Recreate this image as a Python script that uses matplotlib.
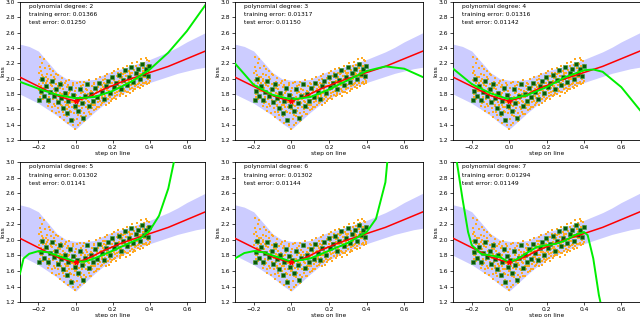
import matplotlib
matplotlib.use("Agg")
import matplotlib.pyplot as plt
import numpy as np

# shared curve grid
curve_x = [-0.3, -0.25, -0.2, -0.15, -0.1, -0.05, 0.0, 0.05, 0.1, 0.15, 0.2,
           0.25, 0.3, 0.35, 0.4, 0.45, 0.5, 0.55, 0.6, 0.65, 0.7]
red_y = [2.02, 1.96, 1.90, 1.84, 1.78, 1.74, 1.71, 1.745, 1.80, 1.86, 1.91,
         1.96, 2.00, 2.04, 2.08, 2.12, 2.16, 2.21, 2.26, 2.31, 2.36]
band_hi = [2.45, 2.42, 2.36, 2.22, 2.08, 2.00, 1.98, 1.98, 1.99, 2.05, 2.10,
           2.13, 2.17, 2.21, 2.25, 2.30, 2.35, 2.41, 2.48, 2.54, 2.60]
band_lo = [1.80, 1.74, 1.68, 1.60, 1.52, 1.42, 1.34, 1.45, 1.56, 1.66, 1.74,
           1.80, 1.86, 1.91, 1.95, 1.99, 2.03, 2.07, 2.10, 2.13, 2.15]

# polynomial fits
fit_x = {
    2: [-0.3, -0.2, -0.1, 0.0, 0.1, 0.2, 0.3, 0.4, 0.5, 0.6, 0.7],
    3: [-0.3, -0.2, -0.1, 0.0, 0.1, 0.2, 0.3, 0.4, 0.5, 0.6, 0.7],
    4: [-0.3, -0.2, -0.1, 0.0, 0.1, 0.2, 0.3, 0.4, 0.45, 0.5, 0.6, 0.7],
    5: [-0.3, -0.28, -0.25, -0.2, -0.15, -0.1, -0.05, 0.0, 0.05, 0.1, 0.2,
        0.3, 0.35, 0.4, 0.45, 0.5, 0.53],
    6: [-0.3, -0.25, -0.2, -0.15, -0.1, 0.0, 0.1, 0.2, 0.3, 0.4, 0.45, 0.5, 0.51],
    7: [-0.28, -0.25, -0.22, -0.2, -0.15, -0.1, -0.05, 0.0, 0.05, 0.1, 0.15,
        0.2, 0.25, 0.3, 0.35, 0.4, 0.42, 0.45, 0.48, 0.49],
}
fit_y = {
    2: [1.96, 1.87, 1.79, 1.745, 1.76, 1.84, 1.96, 2.12, 2.34, 2.62, 2.96],
    3: [2.20, 1.92, 1.79, 1.73, 1.76, 1.86, 1.98, 2.10, 2.16, 2.13, 2.02],
    4: [2.13, 1.93, 1.81, 1.73, 1.79, 1.89, 2.02, 2.11, 2.12, 2.09, 1.89, 1.59],
    5: [1.56, 1.76, 1.82, 1.855, 1.84, 1.80, 1.76, 1.72, 1.72, 1.76, 1.86,
        1.97, 2.02, 2.12, 2.31, 2.66, 3.0],
    6: [1.76, 1.83, 1.855, 1.84, 1.80, 1.72, 1.76, 1.86, 1.96, 2.10, 2.27, 2.74, 3.0],
    7: [3.0, 2.53, 2.10, 1.93, 1.82, 1.80, 1.78, 1.71, 1.76, 1.84, 1.91,
        1.93, 1.95, 1.99, 2.06, 2.10, 2.06, 1.76, 1.29, 1.18],
}
train_err = {2: "0.01366", 3: "0.01317", 4: "0.01316", 5: "0.01302", 6: "0.01302", 7: "0.01294"}
test_err = {2: "0.01250", 3: "0.01150", 4: "0.01142", 5: "0.01141", 6: "0.01144", 7: "0.01149"}

orange_points = [
    (-0.198, 1.72), (-0.195, 1.85), (-0.193, 2.28), (-0.191, 1.98), (-0.189, 1.76), (-0.186, 2.10),
    (-0.184, 1.90), (-0.181, 1.81), (-0.178, 2.20), (-0.176, 1.73), (-0.173, 2.02), (-0.170, 1.88),
    (-0.167, 1.78), (-0.164, 2.14), (-0.161, 1.94), (-0.158, 1.84), (-0.155, 1.71), (-0.152, 2.06),
    (-0.151, 1.97), (-0.197, 1.93), (-0.192, 2.15), (-0.187, 1.80), (-0.183, 2.05), (-0.177, 1.95),
    (-0.172, 2.25), (-0.168, 1.84), (-0.163, 1.76), (-0.159, 2.02), (-0.154, 1.90), (-0.196, 2.08),
    (-0.149, 1.64), (-0.147, 1.88), (-0.144, 2.16), (-0.142, 1.76), (-0.139, 1.95), (-0.137, 1.70),
    (-0.134, 2.05), (-0.131, 1.82), (-0.129, 1.58), (-0.126, 1.91), (-0.123, 1.74), (-0.121, 2.10),
    (-0.118, 1.67), (-0.115, 1.86), (-0.112, 1.99), (-0.110, 1.79), (-0.107, 1.55), (-0.104, 1.93),
    (-0.102, 1.72), (-0.148, 2.00), (-0.143, 1.68), (-0.138, 1.84), (-0.133, 1.92), (-0.127, 1.63),
    (-0.122, 1.81), (-0.117, 2.02), (-0.111, 1.64), (-0.106, 1.82), (-0.103, 2.06), (-0.136, 2.12),
    (-0.099, 1.84), (-0.097, 2.05), (-0.094, 1.62), (-0.091, 1.77), (-0.089, 1.95), (-0.086, 1.50),
    (-0.083, 1.71), (-0.081, 1.88), (-0.078, 1.66), (-0.075, 2.01), (-0.073, 1.80), (-0.070, 1.57),
    (-0.067, 1.74), (-0.065, 1.92), (-0.062, 1.46), (-0.059, 1.69), (-0.056, 1.83), (-0.054, 1.60),
    (-0.051, 1.97), (-0.098, 1.68), (-0.093, 1.90), (-0.088, 1.56), (-0.084, 1.82), (-0.079, 1.96),
    (-0.074, 1.64), (-0.069, 1.86), (-0.064, 1.53), (-0.060, 1.78), (-0.055, 1.94), (-0.052, 1.66),
    (-0.049, 1.75), (-0.046, 1.52), (-0.044, 1.89), (-0.041, 1.66), (-0.038, 1.42), (-0.036, 1.81),
    (-0.033, 1.98), (-0.030, 1.58), (-0.028, 1.72), (-0.025, 1.48), (-0.022, 1.86), (-0.020, 1.63),
    (-0.017, 1.77), (-0.014, 1.40), (-0.012, 1.92), (-0.009, 1.55), (-0.006, 1.69), (-0.004, 1.84),
    (-0.001, 1.35), (-0.048, 1.60), (-0.043, 1.79), (-0.039, 1.92), (-0.034, 1.63), (-0.029, 1.84),
    (-0.024, 1.56), (-0.019, 1.70), (-0.015, 1.95), (-0.010, 1.46), (-0.005, 1.78), (-0.002, 1.60),
    (0.002, 1.61), (0.005, 1.79), (0.007, 1.47), (0.010, 1.95), (0.013, 1.70), (0.015, 1.53),
    (0.018, 1.85), (0.021, 1.64), (0.023, 1.42), (0.026, 1.76), (0.029, 1.90), (0.031, 1.58),
    (0.034, 1.72), (0.037, 1.50), (0.039, 1.83), (0.042, 1.67), (0.045, 1.96), (0.047, 1.55),
    (0.049, 1.78), (0.003, 1.88), (0.008, 1.66), (0.012, 1.40), (0.017, 1.74), (0.022, 1.96),
    (0.027, 1.52), (0.032, 1.81), (0.036, 1.62), (0.041, 1.92), (0.046, 1.70), (0.048, 1.45),
    (0.051, 1.68), (0.054, 1.87), (0.057, 1.52), (0.059, 1.74), (0.062, 1.93), (0.065, 1.61),
    (0.067, 1.80), (0.070, 1.57), (0.073, 1.70), (0.075, 1.98), (0.078, 1.65), (0.081, 1.84),
    (0.083, 1.54), (0.086, 1.76), (0.089, 1.90), (0.091, 1.62), (0.094, 1.72), (0.097, 1.95),
    (0.099, 1.59), (0.052, 1.80), (0.056, 1.63), (0.061, 1.85), (0.066, 1.71), (0.071, 1.92),
    (0.076, 1.54), (0.080, 1.76), (0.085, 1.67), (0.090, 1.83), (0.095, 1.66), (0.098, 1.87),
    (0.101, 1.79), (0.104, 1.66), (0.107, 1.88), (0.109, 2.00), (0.112, 1.60), (0.115, 1.74),
    (0.117, 1.84), (0.120, 1.69), (0.123, 1.94), (0.125, 1.63), (0.128, 1.78), (0.131, 2.02),
    (0.133, 1.71), (0.136, 1.86), (0.139, 1.66), (0.141, 1.92), (0.144, 1.75), (0.147, 1.82),
    (0.149, 1.98), (0.102, 1.93), (0.106, 1.72), (0.111, 1.81), (0.116, 1.63), (0.121, 1.89),
    (0.126, 1.73), (0.130, 1.84), (0.135, 1.95), (0.140, 1.78), (0.145, 1.68), (0.148, 1.89),
    (0.151, 1.70), (0.154, 1.87), (0.157, 2.04), (0.159, 1.77), (0.162, 1.66), (0.165, 1.93),
    (0.167, 1.81), (0.170, 2.06), (0.173, 1.73), (0.175, 1.89), (0.178, 1.68), (0.181, 1.97),
    (0.183, 1.84), (0.186, 1.76), (0.189, 2.01), (0.191, 1.71), (0.194, 1.91), (0.197, 1.80),
    (0.199, 2.07), (0.152, 1.94), (0.156, 1.80), (0.161, 1.99), (0.166, 1.72), (0.171, 1.85),
    (0.176, 1.95), (0.180, 1.78), (0.185, 1.90), (0.190, 1.83), (0.195, 1.74), (0.198, 1.95),
    (0.202, 1.86), (0.205, 1.75), (0.207, 1.98), (0.210, 2.10), (0.213, 1.82), (0.215, 1.93),
    (0.218, 1.73), (0.221, 2.04), (0.223, 1.88), (0.226, 1.79), (0.229, 1.96), (0.231, 2.12),
    (0.234, 1.84), (0.237, 1.77), (0.239, 2.01), (0.242, 1.91), (0.245, 1.81), (0.247, 2.07),
    (0.249, 1.95), (0.203, 2.02), (0.208, 1.85), (0.212, 1.77), (0.217, 1.96), (0.222, 1.83),
    (0.227, 2.08), (0.232, 1.90), (0.236, 1.97), (0.241, 1.79), (0.246, 1.88), (0.248, 2.02),
    (0.252, 1.87), (0.255, 2.14), (0.257, 1.80), (0.260, 1.99), (0.263, 1.92), (0.265, 2.08),
    (0.268, 1.84), (0.271, 1.78), (0.273, 2.03), (0.276, 1.95), (0.279, 2.17), (0.281, 1.89),
    (0.284, 1.83), (0.287, 2.10), (0.289, 1.97), (0.292, 1.86), (0.295, 2.05), (0.297, 1.92),
    (0.299, 2.15), (0.253, 1.94), (0.258, 2.06), (0.262, 1.86), (0.267, 1.96), (0.272, 2.11),
    (0.277, 1.83), (0.282, 2.00), (0.286, 1.92), (0.291, 2.08), (0.296, 1.81), (0.298, 2.00),
    (0.302, 1.88), (0.305, 2.01), (0.307, 2.20), (0.310, 1.84), (0.313, 1.96), (0.315, 2.11),
    (0.318, 1.91), (0.321, 2.05), (0.323, 1.86), (0.326, 2.16), (0.329, 1.99), (0.331, 2.22),
    (0.334, 1.93), (0.337, 2.08), (0.339, 1.89), (0.342, 2.03), (0.345, 2.18), (0.347, 1.97),
    (0.349, 2.12), (0.303, 2.08), (0.308, 1.93), (0.312, 2.15), (0.317, 1.87), (0.322, 2.00),
    (0.327, 1.92), (0.332, 2.06), (0.336, 2.14), (0.341, 1.95), (0.346, 2.06), (0.348, 1.88),
    (0.351, 1.92), (0.354, 2.25), (0.357, 2.06), (0.359, 1.98), (0.362, 2.14), (0.365, 1.90),
    (0.367, 2.21), (0.370, 2.02), (0.373, 2.10), (0.375, 1.95), (0.378, 2.27), (0.381, 2.07),
    (0.383, 2.17), (0.386, 1.93), (0.389, 2.12), (0.391, 2.00), (0.394, 2.23), (0.397, 2.09),
    (0.399, 1.97), (0.352, 2.04), (0.356, 2.18), (0.361, 1.94), (0.366, 2.10), (0.371, 2.19),
    (0.376, 2.02), (0.380, 1.96), (0.385, 2.24), (0.390, 2.05), (0.395, 1.95), (0.398, 2.18),
]

green_points = [
    (-0.195, 1.72), (-0.188, 1.84), (-0.182, 1.99), (-0.172, 1.77), (-0.160, 1.91), (-0.150, 1.72),
    (-0.140, 1.83), (-0.128, 1.97), (-0.118, 1.78), (-0.105, 1.86), (-0.095, 1.69), (-0.085, 1.93),
    (-0.076, 1.75), (-0.066, 1.62), (-0.058, 1.81), (-0.046, 1.55), (-0.040, 1.71), (-0.030, 1.88),
    (-0.022, 1.46), (-0.012, 1.79), (-0.005, 1.65), (0.006, 1.74), (0.015, 1.58), (0.024, 1.86),
    (0.033, 1.68), (0.042, 1.49), (0.052, 1.77), (0.061, 1.93), (0.072, 1.64), (0.082, 1.80),
    (0.094, 1.71), (0.106, 1.88), (0.118, 1.76), (0.128, 1.95), (0.140, 1.83), (0.152, 1.74),
    (0.163, 1.90), (0.176, 1.97), (0.186, 1.81), (0.198, 2.02), (0.208, 1.89), (0.219, 1.95),
    (0.232, 2.05), (0.243, 1.86), (0.256, 1.98), (0.266, 2.11), (0.278, 1.92), (0.289, 2.02),
    (0.301, 2.15), (0.312, 1.96), (0.324, 2.07), (0.336, 2.13), (0.347, 1.99), (0.358, 2.19),
    (0.369, 2.06), (0.381, 2.12), (0.392, 2.03), (0.398, 2.16),
]

ox, oy = zip(*orange_points)
gx, gy = zip(*green_points)

fig = plt.figure(figsize=(6.4, 3.17), dpi=100)
lefts = [0.031, 0.367, 0.708]
widths = [0.290, 0.294, 0.292]
bottoms = [0.558, 0.047]
heights = [0.436, 0.442]
fs = 4.3

for i, deg in enumerate([2, 3, 4, 5, 6, 7]):
    r, c = divmod(i, 3)
    ax = fig.add_axes([lefts[c], bottoms[r], widths[c], heights[r]])
    ax.fill_between(curve_x, band_lo, band_hi, color="blue", alpha=0.2, lw=0, zorder=1)
    ax.plot(ox, oy, "s", color="#ffaa22", ms=1.7, mew=0, zorder=2)
    ax.plot(gx, gy, "s", mfc="#0a5a0a", mec="#40a040", ms=2.3, mew=0.4, zorder=3)
    ax.plot(curve_x, red_y, color="red", lw=1.1, zorder=4)
    ax.plot(fit_x[deg], fit_y[deg], color="#00ee00", lw=1.4, zorder=5)
    ax.plot([0.0], [1.71], "*", color="red", ms=3.5, zorder=6)
    ax.set_xlim(-0.3, 0.7)
    ax.set_ylim(1.2, 3.0)
    ax.set_xticks([-0.2, 0.0, 0.2, 0.4, 0.6])
    ax.set_yticks(np.arange(1.2, 3.01, 0.2))
    ax.tick_params(labelsize=fs, length=2, width=0.5, pad=1.5)
    for s in ax.spines.values():
        s.set_linewidth(0.6)
    ax.set_xlabel("step on line", fontsize=fs, labelpad=1)
    ax.set_ylabel("loss", fontsize=fs, labelpad=0)
    ax.text(0.05, 0.965, "polynomial degree: %d" % deg, transform=ax.transAxes,
            fontsize=fs, va="center")
    ax.text(0.05, 0.907, "training error: " + train_err[deg], transform=ax.transAxes,
            fontsize=fs, va="center")
    ax.text(0.05, 0.849, "test error: " + test_err[deg], transform=ax.transAxes,
            fontsize=fs, va="center")

fig.savefig("out.png", dpi=100)
